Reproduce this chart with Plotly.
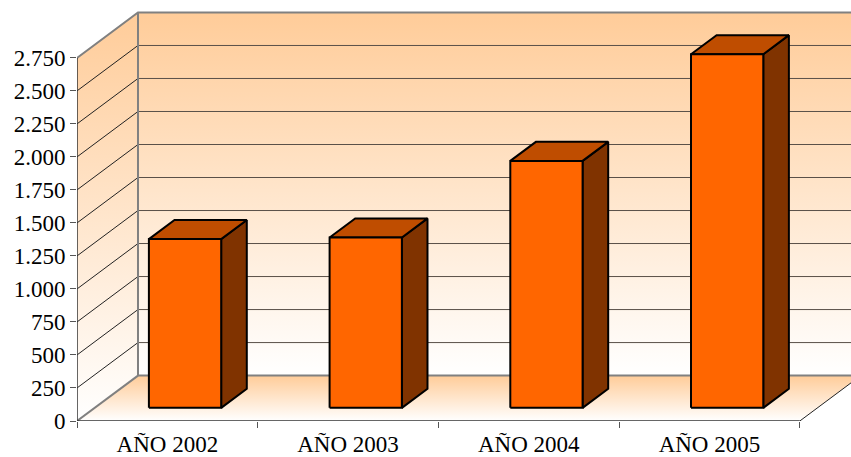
import plotly.graph_objects as go

categories = ["AÑO 2002", "AÑO 2003", "AÑO 2004", "AÑO 2005"]
values = [1278, 1290, 1870, 2678]
y_ticks = list(range(0, 3000, 250))
y_labels = ["0", "250", "500", "750", "1.000", "1.250", "1.500", "1.750",
            "2.000", "2.250", "2.500", "2.750"]

Y_MAX = 2750
DEPTH_X = 0.3375   # floor depth, in category units
DEPTH_Y = 344      # floor depth, in value units
BAR_W = 0.4
BAR_NEAR = 0.29    # share of the depth where a bar starts
BAR_FAR = 0.71     # share of the depth where a bar ends
N = len(categories)
FONT = "Liberation Serif"
GREY = "#808080"

fig = go.Figure()


def poly(xs, ys, fill=None, line=None, width=1, grad=None):
    kw = {}
    if grad:
        kw["fillgradient"] = dict(type="vertical", colorscale=grad)
        kw["fillcolor"] = "rgba(0,0,0,0)"
    elif fill:
        kw["fillcolor"] = fill
    fig.add_trace(go.Scatter(
        x=xs, y=ys, mode="lines", fill="toself" if (fill or grad) else "none",
        line=dict(color=line or "rgba(0,0,0,0)", width=width if line else 0),
        hoverinfo="skip", showlegend=False, **kw))


wall_grad = [[0, "#FFFFFF"], [1, "#FFCC99"]]
# back wall
poly([DEPTH_X, N + DEPTH_X, N + DEPTH_X, DEPTH_X, DEPTH_X],
     [DEPTH_Y, DEPTH_Y, DEPTH_Y + Y_MAX, DEPTH_Y + Y_MAX, DEPTH_Y], grad=wall_grad)
# side wall
poly([0, DEPTH_X, DEPTH_X, 0, 0],
     [0, DEPTH_Y, DEPTH_Y + Y_MAX, Y_MAX, 0], grad=wall_grad)
# floor
poly([0, N, N + DEPTH_X, DEPTH_X, 0],
     [0, 0, DEPTH_Y, DEPTH_Y, 0], grad=wall_grad)

# gridlines
for t in y_ticks:
    if t == 0 or t == Y_MAX:
        continue
    poly([0, DEPTH_X], [t, t + DEPTH_Y], line="#222222", width=1)
    poly([DEPTH_X, N + DEPTH_X], [t + DEPTH_Y, t + DEPTH_Y], line="#5a5048", width=1)

# frame
poly([0, DEPTH_X, N + DEPTH_X], [Y_MAX, Y_MAX + DEPTH_Y, Y_MAX + DEPTH_Y], line=GREY, width=2)
poly([DEPTH_X, DEPTH_X, N + DEPTH_X], [Y_MAX + DEPTH_Y, DEPTH_Y, DEPTH_Y], line=GREY, width=2)
poly([0, DEPTH_X], [0, DEPTH_Y], line=GREY, width=2)
poly([N, N + DEPTH_X], [0, DEPTH_Y], line="#222222", width=1)
poly([0, 0], [0, Y_MAX], line="#333333", width=1.5)
poly([0, N], [0, 0], line="#333333", width=1.5)

# bars
for i, v in enumerate(values):
    x0 = i + 0.5 - BAR_W / 2 + DEPTH_X * BAR_NEAR
    x1 = x0 + BAR_W
    y0 = DEPTH_Y * BAR_NEAR
    y1 = y0 + v
    dx = DEPTH_X * (BAR_FAR - BAR_NEAR)
    dy = DEPTH_Y * (BAR_FAR - BAR_NEAR)
    poly([x1, x1 + dx, x1 + dx, x1, x1], [y0, y0 + dy, y1 + dy, y1, y0],
         fill="#803300", line="#000000", width=2)
    poly([x0, x0 + dx, x1 + dx, x1, x0], [y1, y1 + dy, y1 + dy, y1, y1],
         fill="#BF4D00", line="#000000", width=2)
    poly([x0, x1, x1, x0, x0], [y0, y0, y1, y1, y0],
         fill="#FF6600", line="#000000", width=2)

fig.update_layout(
    width=851, height=457, autosize=False,
    margin=dict(l=77, r=0, t=0, b=35.5, pad=0),
    paper_bgcolor="white", plot_bgcolor="white", showlegend=False,
    font=dict(family=FONT, size=23, color="#000000"),
    xaxis=dict(
        automargin=False,
        range=[0, (851 - 77) / 180.7], showgrid=False, zeroline=False, showline=False,
        tickmode="array", tickvals=[i + 0.5 for i in range(N)], ticktext=categories,
        ticks="", ticklabelstandoff=7, tickfont=dict(family=FONT, size=23, color="#000000"),
        minor=dict(tickmode="array", tickvals=list(range(N + 1)), ticks="outside",
                   ticklen=6, tickcolor="#555555", tickwidth=1, showgrid=False),
    ),
    yaxis=dict(
        automargin=False,
        range=[0, 421.5 / 33.05 * 250], showgrid=False, zeroline=False, showline=False,
        tickmode="array", tickvals=y_ticks, ticktext=y_labels,
        ticks="outside", ticklen=6, tickcolor="#555555", tickwidth=1,
        tickfont=dict(family=FONT, size=23, color="#000000"),
    ),
)
fig.write_html(
    "out.html",
    config=dict(displayModeBar=False),
    post_script="document.body.style.margin='0';document.documentElement.style.overflow='hidden';",
)
